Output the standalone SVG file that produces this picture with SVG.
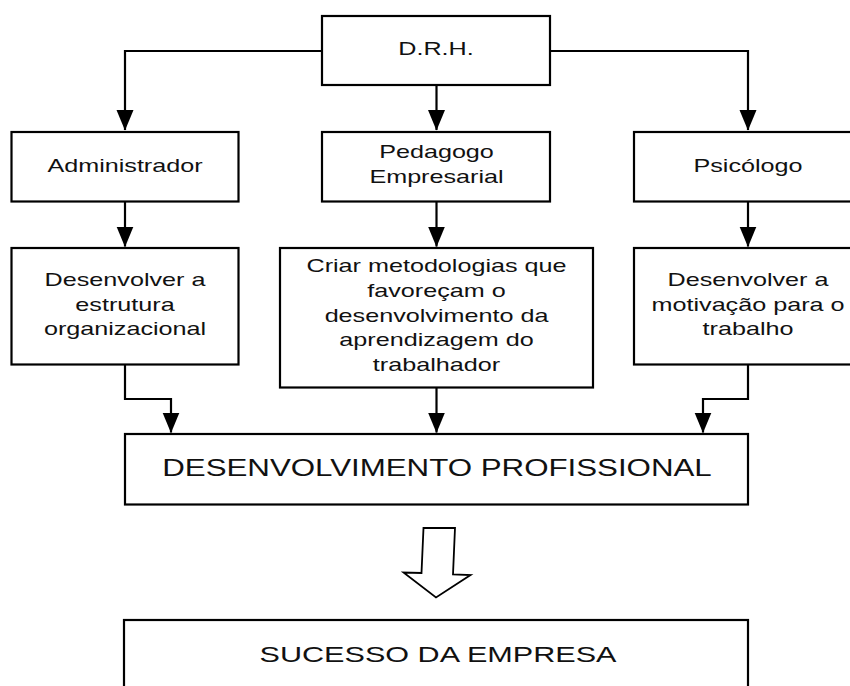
<svg xmlns="http://www.w3.org/2000/svg" width="850" height="686" viewBox="0 0 850 686">
<style>
.box{fill:#fff;stroke:#000;stroke-width:2.2}
.t{font-family:"Liberation Sans",Arial,sans-serif;font-size:18.5px;fill:#111;text-anchor:middle}
.b{font-family:"Liberation Sans",Arial,sans-serif;font-size:23px;fill:#111;text-anchor:middle}
.c{fill:none;stroke:#000;stroke-width:2.2}
</style>
<defs>
<marker id="a" markerWidth="21" markerHeight="18" refX="20" refY="9" orient="auto" markerUnits="userSpaceOnUse" viewBox="0 0 21 18">
<path d="M0,0.5 L20.5,9 L0,17.5 Z" fill="#000"/>
</marker>
</defs>
<rect width="850" height="686" fill="#fff"/>
<g id="connectors">
<path class="c" d="M322,51 H125 V130" marker-end="url(#a)"/>
<path class="c" d="M436.5,85 V130" marker-end="url(#a)"/>
<path class="c" d="M550,51 H748 V130" marker-end="url(#a)"/>
<path class="c" d="M125,202 V246.5" marker-end="url(#a)"/>
<path class="c" d="M436.5,202 V246.5" marker-end="url(#a)"/>
<path class="c" d="M748,202 V246.5" marker-end="url(#a)"/>
<path class="c" d="M125,365 V399 H171 V432.5" marker-end="url(#a)"/>
<path class="c" d="M436.5,388 V432.5" marker-end="url(#a)"/>
<path class="c" d="M748,365 V399 H703 V432.5" marker-end="url(#a)"/>
<path d="M423.5,528 H455 L453,574.5 L470.5,575 L436,597.5 L403.5,572.5 L421.5,573 Z" fill="#fff" stroke="#000" stroke-width="1.8" stroke-linejoin="miter"/>
</g>
<g id="drh">
<rect class="box" x="322" y="16" width="228" height="69"/>
<text class="t" transform="translate(436,55) scale(1.36,1)">D.R.H.</text>
</g>
<g id="administrador">
<rect class="box" x="11.5" y="132" width="227" height="69.5"/>
<text class="t" transform="translate(125,172) scale(1.36,1)">Administrador</text>
</g>
<g id="pedagogo">
<rect class="box" x="322" y="132" width="228" height="69.5"/>
<text class="t" transform="translate(436.5,158) scale(1.36,1)">Pedagogo</text>
<text class="t" transform="translate(436.5,183) scale(1.36,1)">Empresarial</text>
</g>
<g id="psicologo">
<rect class="box" x="634" y="132" width="228" height="69.5"/>
<text class="t" transform="translate(748,172) scale(1.36,1)">Psicólogo</text>
</g>
<g id="estrutura">
<rect class="box" x="11.5" y="248" width="227" height="116.5"/>
<text class="t" transform="translate(125,286) scale(1.36,1)">Desenvolver a</text>
<text class="t" transform="translate(125,310.5) scale(1.36,1)">estrutura</text>
<text class="t" transform="translate(125,335) scale(1.36,1)">organizacional</text>
</g>
<g id="metodologias">
<rect class="box" x="280" y="248" width="313" height="139.5"/>
<text class="t" transform="translate(436.5,272) scale(1.36,1)">Criar metodologias que</text>
<text class="t" transform="translate(436.5,297) scale(1.36,1)">favoreçam o</text>
<text class="t" transform="translate(436.5,321.5) scale(1.36,1)">desenvolvimento da</text>
<text class="t" transform="translate(436.5,346) scale(1.36,1)">aprendizagem do</text>
<text class="t" transform="translate(436.5,371) scale(1.36,1)">trabalhador</text>
</g>
<g id="motivacao">
<rect class="box" x="634" y="248" width="228" height="116.5"/>
<text class="t" transform="translate(748,286) scale(1.36,1)">Desenvolver a</text>
<text class="t" transform="translate(748,310.5) scale(1.36,1)">motivação para o</text>
<text class="t" transform="translate(748,335) scale(1.36,1)">trabalho</text>
</g>
<g id="desenvolvimento">
<rect class="box" x="125" y="434" width="623" height="70.5"/>
<text class="b" transform="translate(437,476) scale(1.36,1)">DESENVOLVIMENTO PROFISSIONAL</text>
</g>
<g id="sucesso">
<rect class="box" x="124" y="620" width="624" height="90"/>
<text class="b" transform="translate(438,662) scale(1.36,1)" style="font-size:22.5px">SUCESSO DA EMPRESA</text>
</g>
</svg>
